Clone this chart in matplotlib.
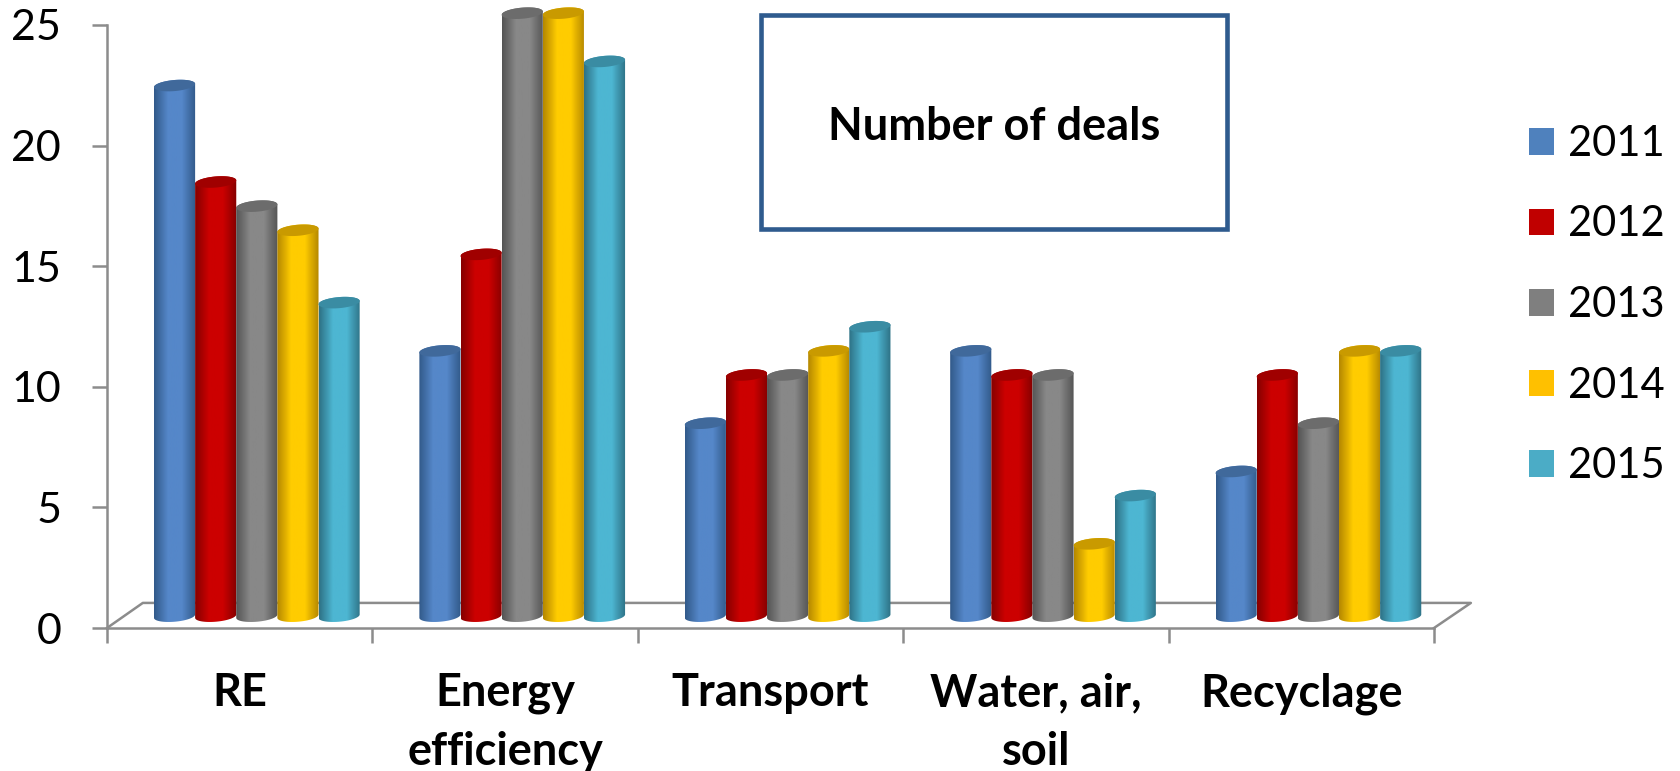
import numpy as np
import matplotlib
matplotlib.use('Agg')
import matplotlib.pyplot as plt
from matplotlib.colors import LinearSegmentedColormap
from matplotlib.patches import Patch, Polygon, Rectangle

categories = ['RE', 'Energy\nefficiency', 'Transport', 'Water, air,\nsoil', 'Recyclage']
years = ['2011', '2012', '2013', '2014', '2015']

v2011 = [22, 11, 8, 11, 6]
v2012 = [18, 15, 10, 10, 10]
v2013 = [17, 25, 10, 10, 8]
v2014 = [16, 25, 11, 3, 11]
v2015 = [13, 23, 12, 5, 11]
series = [v2011, v2012, v2013, v2014, v2015]

legend_cols = ['#4F81BD', '#C00000', '#7F7F7F', '#FFC000', '#4BACC6']
mid_cols = ['#5587C9', '#CC0000', '#888888', '#FFCC00', '#4DB6D2']
edge_cols = ['#325A8A', '#860000', '#555555', '#B58800', '#2E7286']
top_cols = ['#40699B', '#A00000', '#6C6C6C', '#C99A00', '#3A8CA3']

grey = '#8C8C8C'

plt.rcParams['font.family'] = ['Lato', 'DejaVu Sans']

fig = plt.figure(figsize=(16.8, 7.71), dpi=100)
ax = fig.add_axes([107 / 1680, 1 - 628 / 771, (1434 - 107) / 1680, (628 - 25) / 771])

bar_w = 0.155
first_left = 0.177
base = 0.49      # bars stand a bit behind the front of the floor
ell_h = 0.46
slope = 0.9      # tilt of the cylinder ends


def ends(cx, cy, t):
    x = cx + bar_w / 2 * np.cos(t)
    y = cy + ell_h / 2 * np.sin(t) + slope * (x - cx)
    return x, y


# floor
ax.plot([0, 0.135, 5.139, 5], [0, 1.04, 1.04, 0], color=grey, lw=1.8, clip_on=False, zorder=1)

# cylinders
for s, vals in enumerate(series):
    cmap = LinearSegmentedColormap.from_list('c', [edge_cols[s], mid_cols[s], mid_cols[s], edge_cols[s]])
    for g, v in enumerate(vals):
        left = g + first_left + s * bar_w
        cx = left + bar_w / 2
        t_low = np.linspace(np.pi, 2 * np.pi, 40)
        t_up = np.linspace(0, np.pi, 40)
        bx, by = ends(cx, base, t_low)
        tx, ty = ends(cx, base + v, t_up)
        outline = np.column_stack([np.r_[bx, tx], np.r_[by, ty]])
        z = 3 + s + g * 10
        im = ax.imshow(np.linspace(0, 1, 64)[None, :], cmap=cmap, aspect='auto',
                       extent=[left, left + bar_w, by.min() - 0.1, ty.max() + 0.1],
                       zorder=z)
        im.set_clip_box(fig.bbox)
        im.set_clip_path(Polygon(outline, closed=True, transform=ax.transData))
        ex, ey = ends(cx, base + v, np.linspace(0, 2 * np.pi, 80))
        ax.fill(ex, ey, color=top_cols[s], lw=0, clip_on=False, zorder=z + 0.5)

ax.set_xlim(0, 5)
ax.set_ylim(0, 25)

for side in ['top', 'right']:
    ax.spines[side].set_visible(False)
for side in ['left', 'bottom']:
    ax.spines[side].set_color(grey)
    ax.spines[side].set_linewidth(1.8)

ax.set_yticks([0, 5, 10, 15, 20, 25])
ax.tick_params(axis='y', length=11, width=1.8, color=grey, pad=22, labelsize=31)
ax.set_xticks(range(6))
ax.set_xticklabels([])
ax.tick_params(axis='x', which='major', length=10.5, width=1.8, color=grey)
ax.set_xticks(np.arange(5) + 0.5, minor=True)
ax.set_xticklabels(categories, minor=True, fontweight='bold', fontsize=32.5, linespacing=1.48)
ax.tick_params(axis='x', which='minor', length=0, pad=32)

# title box
box = Rectangle((761 / 1680, 1 - 229 / 771), (1227 - 761) / 1680, (229 - 15) / 771, transform=fig.transFigure,
                facecolor='white', edgecolor='#2F5B8E', lw=3.3, zorder=50)
fig.add_artist(box)
fig.text(994 / 1680, 1 - 127 / 771, 'Number of deals', ha='center', va='center', fontweight='bold',
         fontsize=32.5, zorder=51)

handles = [Patch(facecolor=c, label=y) for c, y in zip(legend_cols, years)]
fig.legend(handles=handles, loc='center left', bbox_to_anchor=(1528.5 / 1680, 1 - 305 / 771), frameon=False,
           fontsize=30, handlelength=0.6, handleheight=0.6, handletextpad=0.35, labelspacing=1.02,
           borderaxespad=0, borderpad=0)

fig.savefig('out.png', dpi=100)
